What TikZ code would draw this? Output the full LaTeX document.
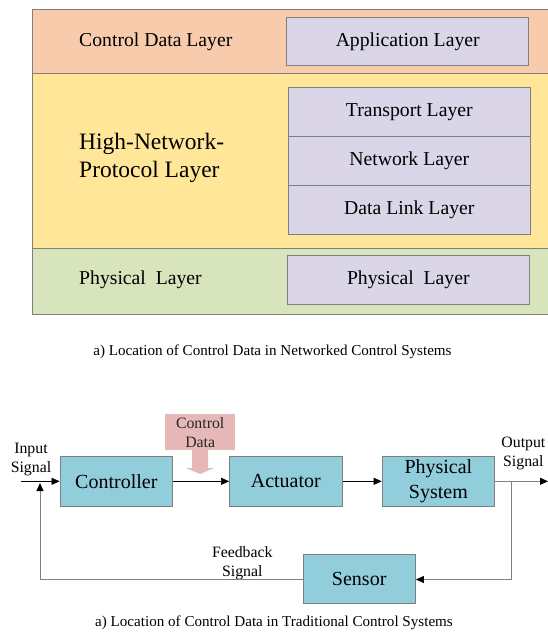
\documentclass[tikz,border=0pt]{standalone}
\usepackage{fontspec}
\setmainfont{Liberation Serif}
\usetikzlibrary{arrows.meta}
\definecolor{bandorange}{HTML}{F8CBAD}
\definecolor{bandyellow}{HTML}{FFE699}
\definecolor{bandgreen}{HTML}{D8E4BC}
\definecolor{lav}{HTML}{DAD5E7}
\definecolor{tealc}{HTML}{92CDDC}
\definecolor{pinkc}{HTML}{E6B8B7}
\definecolor{edgegray}{HTML}{7F7F7F}
\definecolor{linegray}{HTML}{808080}
\tikzset{
  band/.style={draw=edgegray, line width=0.8pt, anchor=north west, inner sep=0pt, minimum width=520pt},
  layerbox/.style={draw=edgegray, line width=0.8pt, fill=lav, inner sep=0pt, minimum width=242pt, minimum height=48.6pt, font=\fontsize{19.7}{23}\selectfont},
  leftlabel/.style={anchor=west, inner sep=0pt, font=\fontsize{19.7}{23}\selectfont},
  block/.style={draw=edgegray, line width=0.9pt, fill=tealc, inner sep=0pt, minimum width=112.5pt, minimum height=49.3pt, align=center, font=\fontsize{20}{25}\selectfont},
  smalltxt/.style={inner sep=0pt, align=center, font=\fontsize{15.8}{19}\selectfont},
  caption/.style={inner sep=0pt, font=\fontsize{15.1}{18}\selectfont},
  tip/.style={-{Triangle[length=8pt,width=7pt]}},
}
\begin{document}
\begin{tikzpicture}[x=1pt,y=-1pt]
\useasboundingbox (0,0) rectangle (548,633);
% ---- top: layer stack ----
\node[band, fill=bandorange, minimum height=63.7pt] (orange) at (31.5,9) {};
\node[band, fill=bandyellow, minimum height=175.6pt] (yellow) at (31.5,72.7) {};
\node[band, fill=bandgreen, minimum height=65.7pt] (green) at (31.5,248.3) {};
\node[layerbox] (app) at (407.7,41.5) {Application Layer};
\node[layerbox] (transport) at (409.3,111.7) {Transport Layer};
\node[layerbox] (network) at (409.3,160.85) {Network Layer};
\node[layerbox] (datalink) at (409.3,210) {Data Link Layer};
\node[layerbox] (phys) at (408.3,279.8) {Physical\ \ Layer};
\node[leftlabel] (cdl) at (79,41.7) {Control Data Layer};
\node[leftlabel, align=left, font=\fontsize{23.5}{28.5}\selectfont] (hnp) at (79,158) {High-Network-\\Protocol Layer};
\node[leftlabel] (pl) at (79,280) {Physical\ \ Layer};
\node[caption] (cap1) at (272.5,352) {a) Location of Control Data in Networked Control Systems};
% ---- bottom: control loop ----
\node[block] (ctrl) at (116.3,481.3) {Controller};
\node[block] (act) at (285.8,481.3) {Actuator};
\node[block] (psys) at (438.4,481.3) {Physical\\System};
\node[block] (sensor) at (359.2,578.8) {Sensor};
\node[smalltxt] (insig) at (31,459.5) {Input\\Signal};
\node[smalltxt] (outsig) at (523.4,453.8) {Output\\Signal};
\node[smalltxt] (fbsig) at (242.3,562.8) {Feedback\\Signal};
\node[fill=pinkc, minimum width=69.6pt, minimum height=35.7pt, inner sep=0pt] (cdata) at (200.2,432.15) {};
\node[smalltxt, text=black!85] (cdtext) at (200.2,432.5) {Control\\Data};
\fill[pinkc] (cdata.south) ++(-8,0) -- ++(0,18) -- ++(-6,0) -- (200.2,474) -- (214.2,468) -- ++(-6,0) -- ++(0,-18) -- cycle;
\coordinate (instart) at (21,481.3);
\coordinate (outend) at (548,481.3);
\coordinate (branch) at (511,481.3);
\coordinate (fbcorner) at (511,579.5);
\coordinate (fbleft) at (40,579.5);
\coordinate (fbtip) at (40,483);
\draw[tip, line width=0.6pt] (instart) -- (ctrl.west);
\draw[tip, line width=0.6pt] (ctrl.east) -- (act.west);
\draw[tip, line width=0.6pt] (act.east) -- (psys.west);
\draw[linegray, line width=0.8pt, -{Triangle[length=8pt,width=7pt,color=black]}] (psys.east) -- (outend);
\draw[linegray, line width=0.8pt, -{Triangle[length=8pt,width=7pt,color=black]}] (branch) -- (fbcorner) -- (sensor.east |- fbcorner);
\draw[linegray, line width=0.8pt, -{Triangle[length=8pt,width=7pt,color=black]}] (sensor.west |- fbleft) -- (fbleft) -- (fbtip);
\node[caption] (cap2) at (274,622.7) {a) Location of Control Data in Traditional Control Systems};
\end{tikzpicture}
\end{document}
